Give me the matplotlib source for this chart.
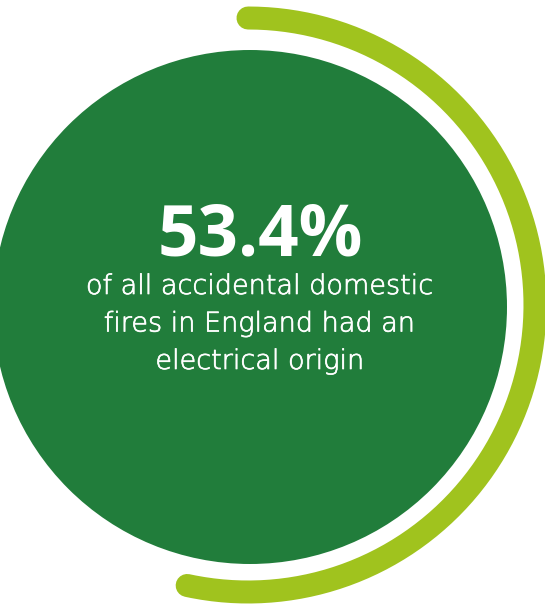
"""
Infographic: share of accidental domestic fires with an electrical origin
"""

import matplotlib
matplotlib.use('Agg')
import matplotlib.pyplot as plt
import matplotlib.patheffects as pe
import numpy as np
from matplotlib.patches import Circle

#---------------------------------------------------------------------------------------------------
# Data
#---------------------------------------------------------------------------------------------------

pct_value = 53.4
headline = '%.1f%%' % pct_value
body_lines = ['of all accidental domestic',
              'fires in England had an',
              'electrical origin']

#---------------------------------------------------------------------------------------------------
# Styling
#---------------------------------------------------------------------------------------------------

dark_green = '#217D3B'
lime = '#A0C31E'
width_px, height_px = 545, 613
dpi = 100

disc_center = (250, 307)
disc_radius = 257
arc_center = (248, 305)
arc_radius = 287
arc_width_px = 23

#---------------------------------------------------------------------------------------------------
# Plot
#---------------------------------------------------------------------------------------------------

fig = plt.figure(figsize=(width_px / dpi, height_px / dpi), dpi=dpi)
ax = fig.add_axes([0, 0, 1, 1])
ax.set_xlim(0, width_px)
ax.set_ylim(height_px, 0)
ax.set_aspect('equal')
ax.axis('off')

ax.add_patch(Circle(disc_center, disc_radius, facecolor=dark_green, edgecolor='none'))

# arc sweeps clockwise from top by the percentage of a full turn
sweep = np.deg2rad(360 * pct_value / 100)
theta = np.linspace(0, sweep, 300)
ax.plot(arc_center[0] + arc_radius * np.sin(theta),
        arc_center[1] - arc_radius * np.cos(theta),
        color=lime, lw=arc_width_px * 72 / dpi, solid_capstyle='round')

ax.text(260, 255, headline, color='white', fontsize=51, fontweight='bold',
        family='Open Sans', ha='center', va='baseline')
for i, line in enumerate(body_lines):
    ax.text(260, 294 + 37.5 * i, line, color='white', fontsize=19.5, fontweight='light',
            family='DejaVu Sans', ha='center', va='baseline',
            path_effects=[pe.withStroke(linewidth=0.5, foreground='white')])

plt.savefig('out.png', dpi=dpi)
